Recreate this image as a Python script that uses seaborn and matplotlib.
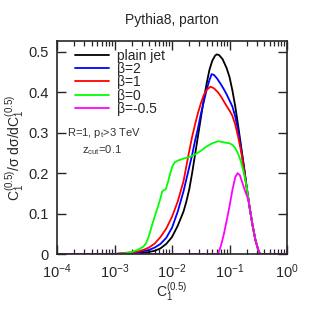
import numpy as np
import pandas as pd
import matplotlib
matplotlib.use("Agg")
import matplotlib.pyplot as plt
import seaborn as sns

# ---- data (log10 of C1 and the distribution) ----
labels = ["plain jet", "β=2", "β=1", "β=0", "β=-0.5"]
colors = ["#000000", "#0000ff", "#ff0000", "#00ff00", "#ff00ff"]

logx_plain = [-4.0, -3.0, -2.6, -2.4, -2.3, -2.2, -2.1, -2.0, -1.9, -1.8, -1.75, -1.7, -1.65,
              -1.6, -1.55, -1.5, -1.45, -1.4, -1.35, -1.3, -1.25, -1.22, -1.18, -1.12,
              -1.05, -1.0, -0.95, -0.9, -0.85, -0.8, -0.75, -0.7, -0.65, -0.6, -0.55,
              -0.5, -0.47, 0.0]
y_plain = [0, 0, 0.002, 0.005, 0.008, 0.014, 0.025, 0.042, 0.07, 0.105, 0.13, 0.16, 0.2,
           0.245, 0.29, 0.335, 0.38, 0.42, 0.455, 0.478, 0.491, 0.494, 0.492, 0.482,
           0.46, 0.438, 0.405, 0.365, 0.318, 0.268, 0.218, 0.165, 0.115, 0.072, 0.035,
           0.01, 0, 0]

logx_b2 = [-4.0, -3.0, -2.6, -2.4, -2.3, -2.2, -2.1, -2.0, -1.9, -1.8, -1.7, -1.65, -1.6,
           -1.55, -1.5, -1.45, -1.4, -1.35, -1.31, -1.27, -1.22, -1.15, -1.1, -1.05, -1.0,
           -0.95, -0.9, -0.85, -0.8, -0.75, -0.7, -0.65, -0.6, -0.55, -0.5, -0.47, 0.0]
y_b2 = [0, 0, 0.004, 0.01, 0.016, 0.025, 0.04, 0.065, 0.105, 0.155, 0.215, 0.245, 0.28,
        0.31, 0.345, 0.375, 0.405, 0.43, 0.445, 0.443, 0.435, 0.42, 0.408, 0.395, 0.38,
        0.365, 0.34, 0.305, 0.262, 0.215, 0.163, 0.115, 0.072, 0.035, 0.01, 0, 0]

logx_b1 = [-4.0, -3.0, -2.8, -2.6, -2.5, -2.4, -2.3, -2.2, -2.1, -2.0, -1.9, -1.8, -1.7,
           -1.65, -1.6, -1.55, -1.5, -1.45, -1.4, -1.33, -1.27, -1.2, -1.15, -1.1, -1.05,
           -1.0, -0.95, -0.9, -0.85, -0.8, -0.75, -0.7, -0.65, -0.6, -0.55, -0.5, -0.47, 0.0]
y_b1 = [0, 0, 0.003, 0.006, 0.01, 0.016, 0.026, 0.042, 0.063, 0.092, 0.13, 0.18, 0.255,
        0.29, 0.32, 0.348, 0.372, 0.392, 0.406, 0.414, 0.41, 0.4, 0.39, 0.378, 0.366,
        0.355, 0.342, 0.32, 0.29, 0.255, 0.21, 0.162, 0.115, 0.072, 0.035, 0.01, 0, 0]

logx_b0 = [-4.0, -3.0, -2.8, -2.7, -2.6, -2.5, -2.45, -2.4, -2.35, -2.3, -2.25, -2.2, -2.17,
           -2.14, -2.11, -2.07, -2.03, -1.99, -1.95, -1.9, -1.8, -1.7, -1.6, -1.5, -1.4,
           -1.3, -1.2, -1.12, -1.05, -1.0, -0.95, -0.9, -0.85, -0.8, -0.75, -0.7, -0.65,
           -0.6, -0.55, -0.5, -0.47, 0.0]
y_b0 = [0, 0, 0.002, 0.005, 0.01, 0.018, 0.027, 0.045, 0.07, 0.093, 0.115, 0.138, 0.155,
        0.158, 0.16, 0.178, 0.2, 0.218, 0.227, 0.231, 0.236, 0.24, 0.246, 0.255, 0.266,
        0.274, 0.279, 0.277, 0.275, 0.274, 0.27, 0.262, 0.248, 0.228, 0.2, 0.165, 0.115,
        0.072, 0.035, 0.01, 0, 0]

logx_bm05 = [-4.0, -1.2, -1.15, -1.1, -1.05, -1.0, -0.95, -0.9, -0.86, -0.82, -0.78, -0.74,
             -0.7, -0.67, -0.65, -0.6, -0.55, -0.5, -0.47, 0.0]
y_bm05 = [0, 0, 0.02, 0.048, 0.082, 0.118, 0.158, 0.19, 0.2, 0.195, 0.178, 0.16,
          0.145, 0.133, 0.115, 0.072, 0.035, 0.01, 0, 0]

series = [(logx_plain, y_plain), (logx_b2, y_b2), (logx_b1, y_b1),
          (logx_b0, y_b0), (logx_bm05, y_bm05)]

frames = []
for lab, (lx, yy) in zip(labels, series):
    frames.append(pd.DataFrame({"C": np.power(10.0, lx), "dist": yy, "curve": lab}))
df = pd.concat(frames, ignore_index=True)

# ---- style ----
sns.set_style("ticks")
plt.rcParams["font.family"] = ["Liberation Sans", "DejaVu Sans"]
plt.rcParams["mathtext.fontset"] = "custom"
plt.rcParams["mathtext.rm"] = "Liberation Sans"
plt.rcParams["mathtext.it"] = "Liberation Sans"
plt.rcParams["mathtext.bf"] = "Liberation Sans:bold"

fig = plt.figure(figsize=(3.11, 3.11), dpi=100)
ax = fig.add_axes([57 / 311, 1 - 254 / 311, 230 / 311, 213 / 311])

sns.lineplot(data=df, x="C", y="dist", hue="curve", hue_order=labels,
             palette=dict(zip(labels, colors)), estimator=None, sort=False,
             linewidth=1.3, ax=ax)

ax.set_xscale("log")
ax.set_xlim(1e-4, 1)
ax.set_ylim(0, 0.527)
ax.set_yticks([0, 0.1, 0.2, 0.3, 0.4, 0.5])
ax.set_yticklabels(["0", "0.1", "0.2", "0.3", "0.4", "0.5"])
ax.tick_params(which="both", direction="in", top=True, right=True, labelsize=10.5)
ax.tick_params(which="major", length=6.5, width=1.0)
ax.tick_params(which="minor", length=3.5, width=0.9)
ax.tick_params(axis="x", which="major", pad=6)
ax.tick_params(axis="y", which="major", pad=6)
ax.xaxis.set_minor_locator(matplotlib.ticker.LogLocator(base=10, subs=np.arange(2, 10), numticks=20))
ax.yaxis.set_minor_locator(matplotlib.ticker.NullLocator())
for s in ax.spines.values():
    s.set_linewidth(1.2)

ax.set_xlabel("C$_1^{(0.5)}$", fontsize=10, labelpad=0)
ax.set_ylabel("C$_1^{(0.5)}$/σ dσ/dC$_1^{(0.5)}$", fontsize=10, labelpad=1)
ax.set_title("Pythia8, parton", fontsize=10, pad=12)

handles, labs = ax.get_legend_handles_labels()
ax.legend(handles, labs, loc="upper left", frameon=False, fontsize=10,
          handlelength=2.4, handletextpad=0.6, labelspacing=-0.05,
          borderaxespad=0.3, bbox_to_anchor=(0.037, 1.01))

ax.text(0.045, 0.57, "R=1, p$_t$>3 TeV", transform=ax.transAxes, fontsize=8,
        color="#333333", ha="left", va="center")
ax.text(0.195, 0.49, "z$_{cut}$=0.1", transform=ax.transAxes, fontsize=8,
        color="#333333", ha="center", va="center")

fig.savefig("out.png", dpi=100)
